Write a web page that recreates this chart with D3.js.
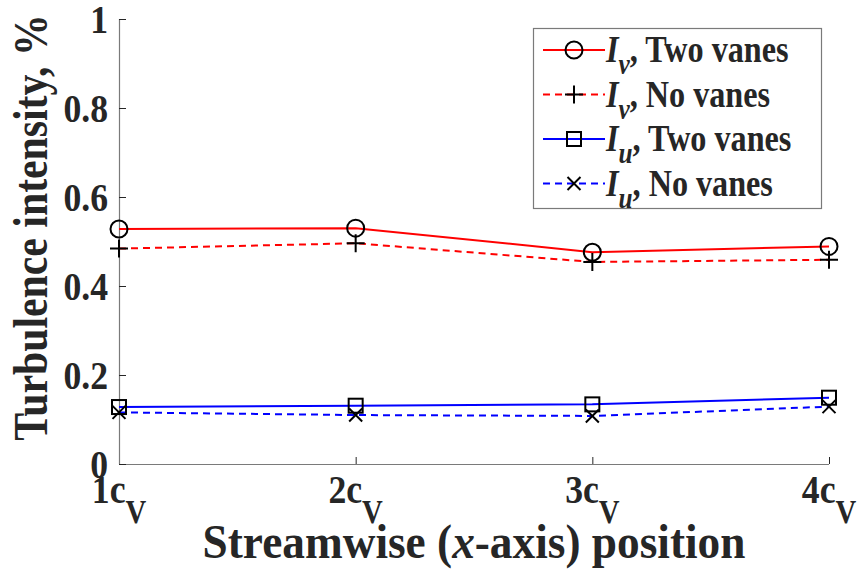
<!DOCTYPE html>
<html>
<head>
<meta charset="utf-8">
<script src="https://cdn.jsdelivr.net/npm/d3@7"></script>
<style>
  html, body { margin: 0; padding: 0; background: #fff; }
  svg { display: block; }
  text { font-family: "Liberation Serif", "Times New Roman", serif; font-weight: bold; fill: #262626; }
</style>
</head>
<body>
<svg id="chart" width="860" height="580"></svg>
<script>
// Streamwise stations, in vane chords
const positions = [1, 2, 3, 4];
const positionLabels = ["1", "2", "3", "4"];

// Turbulence intensity (%) at each station
const ivTwoVanes = [0.528, 0.530, 0.476, 0.489];
const ivNoVanes  = [0.484, 0.496, 0.454, 0.459];
const iuTwoVanes = [0.128, 0.131, 0.134, 0.149];
const iuNoVanes  = [0.116, 0.110, 0.108, 0.129];

const yTicks = [0, 0.2, 0.4, 0.6, 0.8, 1];

const series = [
  { comp: "v", name: "Two vanes", values: ivTwoVanes, color: "#ff0000", dash: null,  marker: "circle" },
  { comp: "v", name: "No vanes",  values: ivNoVanes,  color: "#ff0000", dash: "7,5", marker: "plus" },
  { comp: "u", name: "Two vanes", values: iuTwoVanes, color: "#0000ff", dash: null,  marker: "square" },
  { comp: "u", name: "No vanes",  values: iuNoVanes,  color: "#0000ff", dash: "7,5", marker: "cross" }
];

const svg = d3.select("#chart");
const plotLeft = 119, plotRight = 829, plotTop = 19, plotBottom = 464;
const squeeze = 0.87;   // narrow glyphs, like a condensed Times face

const x = d3.scaleLinear().domain([1, 4]).range([plotLeft, plotRight]);
const y = d3.scaleLinear().domain([0, 1]).range([plotBottom, plotTop]);

// Text placed at (px, py) and narrowed horizontally
function label(parent, px, py, size, anchor, rotate = 0, sx = squeeze) {
  return parent.append("text")
    .attr("transform", `translate(${px},${py}) rotate(${rotate}) scale(${sx},1)`)
    .attr("text-anchor", anchor)
    .attr("font-size", size);
}

// Axes: ticks point into the plot, only left and bottom spines
const xAxis = d3.axisBottom(x).tickValues(positions).tickSize(-7).tickFormat("");
const yAxis = d3.axisLeft(y).tickValues(yTicks).tickSize(-7).tickFormat("");

const gx = svg.append("g").attr("transform", `translate(0,${plotBottom})`).call(xAxis);
const gy = svg.append("g").attr("transform", `translate(${plotLeft},0)`).call(yAxis);
[gx, gy].forEach(g => {
  g.select(".domain").attr("stroke", "#7a7a7a").attr("stroke-width", 1.2);
  g.selectAll(".tick line").attr("stroke", "#262626").attr("stroke-width", 1);
});
gx.select(".domain").attr("d", `M${plotLeft},0.5H${plotRight}`);
gy.select(".domain").attr("d", `M0.5,${plotBottom}V${plotTop}`);

// Y tick labels
const yLabels = svg.append("g");
yTicks.forEach(t => {
  label(yLabels, plotLeft - 11, y(t) + 14, 41, "end").text(d3.format("~g")(t));
});

// X tick labels: "1c" with subscript "V"
const xLabels = svg.append("g");
positions.forEach((p, i) => {
  const t = label(xLabels, x(p), 503, 41, "middle");
  t.append("tspan").text(positionLabels[i] + "c");
  t.append("tspan").attr("dy", 20).attr("font-size", 33).text("V");
});

// Axis titles
const xt = label(svg, (plotLeft + plotRight) / 2, 558, 49, "middle", 0, 0.925);
xt.append("tspan").text("Streamwise (");
xt.append("tspan").attr("font-style", "italic").text("x");
xt.append("tspan").text("-axis) position");

label(svg, 47, (plotTop + plotBottom) / 2 - 14, 48, "middle", -90)
  .text("Turbulence intensity, %");

// Marker shapes
function drawMarker(g, type, cx, cy) {
  const s = g.append("g").attr("transform", `translate(${cx},${cy})`)
    .attr("fill", "none").attr("stroke", "#000").attr("stroke-width", 2);
  if (type === "circle") s.append("circle").attr("r", 8.5);
  else if (type === "square") s.append("rect").attr("x", -7).attr("y", -7).attr("width", 14).attr("height", 14);
  else if (type === "plus") s.append("path").attr("d", "M-9,0H9M0,-9V9");
  else if (type === "cross") s.append("path").attr("d", "M-6.5,-6.5L6.5,6.5M-6.5,6.5L6.5,-6.5");
}

const line = d3.line().x((d, i) => x(positions[i])).y(d => y(d));

const plot = svg.append("g");
series.forEach(s => {
  plot.append("path")
    .datum(s.values)
    .attr("d", line)
    .attr("fill", "none")
    .attr("stroke", s.color)
    .attr("stroke-width", 2)
    .attr("stroke-dasharray", s.dash);
});
series.forEach(s => {
  s.values.forEach((v, i) => drawMarker(plot, s.marker, x(positions[i]), y(v)));
});

// Legend
const lg = svg.append("g");
lg.append("rect")
  .attr("x", 533.5).attr("y", 28.5).attr("width", 288).attr("height", 180)
  .attr("fill", "#fff").attr("stroke", "#7a7a7a").attr("stroke-width", 1.2);
series.forEach((s, i) => {
  const cy = 50 + i * 44.5;
  lg.append("line")
    .attr("x1", 543).attr("x2", 605).attr("y1", cy).attr("y2", cy)
    .attr("stroke", s.color).attr("stroke-width", 2).attr("stroke-dasharray", s.dash);
  drawMarker(lg, s.marker, 574, cy);
  const t = label(lg, 606, cy + 12, 37, "start");
  t.append("tspan").attr("font-style", "italic").text("I");
  t.append("tspan").attr("font-style", "italic").attr("font-size", 29).attr("dy", 12).text(s.comp);
  t.append("tspan").attr("dy", -12).text(", " + s.name);
});
</script>
</body>
</html>
